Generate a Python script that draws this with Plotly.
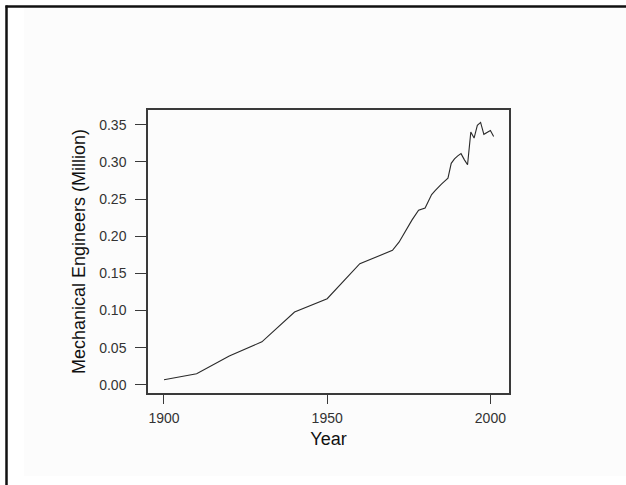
import plotly.graph_objects as go

# Mechanical engineers employed in the U.S., millions
years = [1900, 1910, 1920, 1930, 1940, 1950, 1960, 1970, 1972, 1974, 1976, 1978,
         1979, 1980, 1981, 1982, 1983, 1984, 1985, 1986, 1987, 1988, 1989, 1990,
         1991, 1992, 1993, 1994, 1995, 1996, 1997, 1998, 1999, 2000, 2001]
engineers = [0.007, 0.015, 0.039, 0.058, 0.098, 0.116, 0.163, 0.181, 0.192, 0.208,
             0.222, 0.235, 0.237, 0.238, 0.247, 0.256, 0.261, 0.266, 0.270, 0.274,
             0.278, 0.298, 0.304, 0.308, 0.311, 0.303, 0.296, 0.340, 0.332, 0.349,
             0.353, 0.337, 0.340, 0.342, 0.334]

x_ticks = [1900, 1950, 2000]
y_ticks = [0.00, 0.05, 0.10, 0.15, 0.20, 0.25, 0.30, 0.35]

W, H = 626, 485
L, R, T, B = 148, 117, 110, 92
pw, ph = W - L - R, H - T - B


def px(x):
    return (x - L) / pw


def py(y):
    return (H - B - y) / ph


font = "Liberation Sans, Arial, sans-serif"

fig = go.Figure(go.Scatter(
    x=years, y=engineers, mode="lines",
    line=dict(color="#2a2a2a", width=1.1),
    hoverinfo="skip", showlegend=False,
))

axis_common = dict(
    showgrid=False, zeroline=False, showline=True, mirror=True,
    linecolor="#3a3a3a", linewidth=1.5,
    ticks="outside", tickcolor="#3a3a3a", tickwidth=1.3,
)

fig.update_xaxes(
    range=[1895.1, 2005.7], tickvals=x_ticks, ticktext=[str(v) for v in x_ticks],
    ticklen=9, ticklabelstandoff=2,
    tickfont=dict(family=font, size=14, color="#333333"),
    title=dict(text="Year", font=dict(family=font, size=18, color="#111111"),
               standoff=8),
    **axis_common,
)
fig.update_yaxes(
    range=[-0.0108, 0.3697], tickvals=y_ticks, ticktext=[f"{v:.2f}" for v in y_ticks],
    ticklen=11, ticklabelstandoff=6,
    tickfont=dict(family=font, size=14, color="#333333"),
    title=dict(text="Mechanical Engineers (Million)",
               font=dict(family=font, size=18, color="#111111"), standoff=9),
    **axis_common,
)

fig.update_layout(
    width=W, height=H,
    margin=dict(l=L, r=R, t=T, b=B, pad=0),
    paper_bgcolor="#ffffff", plot_bgcolor="#ffffff",
    shapes=[
        # faint page tint behind the chart
        dict(type="rect", xref="paper", yref="paper", layer="below",
             x0=px(24), x1=px(W), y0=py(476), y1=py(8),
             fillcolor="#fcfcfc", line=dict(width=0)),
        # page frame (top and left edges)
        dict(type="line", xref="paper", yref="paper",
             x0=px(6.5), x1=px(6.5), y0=py(H), y1=py(5.5),
             line=dict(color="#111111", width=2.5)),
        dict(type="line", xref="paper", yref="paper",
             x0=px(5.5), x1=px(W), y0=py(6.5), y1=py(6.5),
             line=dict(color="#111111", width=2.5)),
    ],
)

fig.write_html("out.html")
